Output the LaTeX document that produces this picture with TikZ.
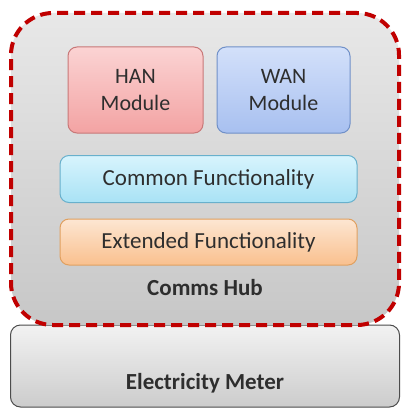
\documentclass[tikz,border=0pt]{standalone}
\usepackage{fontspec}
\setmainfont{Carlito}
\definecolor{hanT}{HTML}{FBD3D3}\definecolor{hanB}{HTML}{F3A3A3}\definecolor{hanD}{HTML}{C87878}
\definecolor{wanT}{HTML}{D3E0FA}\definecolor{wanB}{HTML}{A8C0F0}\definecolor{wanD}{HTML}{7090C8}
\definecolor{comT}{HTML}{D8F4FD}\definecolor{comB}{HTML}{A8E2F5}\definecolor{comD}{HTML}{68B0CC}
\definecolor{extT}{HTML}{FDE6D2}\definecolor{extB}{HTML}{F9C08E}\definecolor{extD}{HTML}{E0A060}
\definecolor{hubred}{HTML}{C00000}
\begin{document}
\begin{tikzpicture}[x=1pt,y=-1pt,
  box/.style={rounded corners=9pt, line width=1pt, align=center, inner sep=0pt, text=black!82},
  han/.style={box, draw=hanD, top color=hanT, bottom color=hanB, font=\fontsize{22}{27}\selectfont},
  wan/.style={box, draw=wanD, top color=wanT, bottom color=wanB, font=\fontsize{22}{27}\selectfont},
  common/.style={box, draw=comD, top color=comT, bottom color=comB, font=\fontsize{23}{27}\selectfont},
  ext/.style={box, draw=extD, top color=extT, bottom color=extB, font=\fontsize{23}{27}\selectfont},
  lbl/.style={font=\fontsize{23}{27}\selectfont\bfseries, text=black!82}
]
\useasboundingbox (0,0) rectangle (405,409);
\fill[white] (0,0) rectangle (405,409);
% meter
\node[draw=black!70, line width=1pt, rounded corners=10pt, top color=black!5, bottom color=black!20,
  minimum width=389pt, minimum height=82pt, inner sep=0pt] (meter) at (205,366) {};
\node[lbl] (meterlbl) at (205,383) {Electricity Meter};
% hub
\node[draw=hubred, line width=4pt, dash pattern=on 11pt off 6pt, rounded corners=42pt,
  top color=black!9, bottom color=black!22, minimum width=388pt, minimum height=312pt, inner sep=0pt] (hub) at (205,169) {};
\node[lbl] (hublbl) at (205,288) {Comms Hub};
% modules
\node[han, minimum width=135pt, minimum height=86pt] (han) at (135.5,90) {HAN\\Module};
\node[wan, minimum width=133pt, minimum height=86pt] (wan) at (283.5,90) {WAN\\Module};
\node[common, minimum width=297pt, minimum height=47pt] (common) at (208.5,179) {Common Functionality};
\node[ext, minimum width=297pt, minimum height=46pt] (ext) at (208.5,242) {Extended Functionality};
\end{tikzpicture}
\end{document}
